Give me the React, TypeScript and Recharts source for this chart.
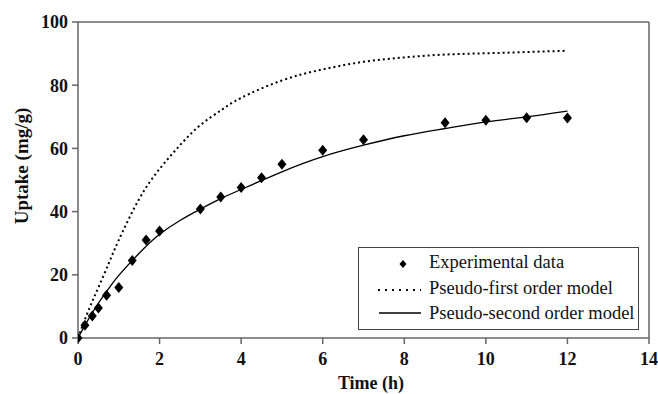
import {
  ComposedChart,
  Line,
  Scatter,
  XAxis,
  YAxis,
  ReferenceLine,
} from 'recharts';

// experimental uptake points (time in h, uptake in mg/g)
const expTimes = [0, 0.17, 0.35, 0.5, 0.7, 1.0, 1.33, 1.67, 2.0, 3.0, 3.5, 4.0, 4.5, 5.0, 6.0, 7.0, 9.0, 10.0, 11.0, 12.0];
const expUptake = [0, 4, 7, 9.5, 13.5, 16, 24.5, 31, 33.9, 40.8, 44.6, 47.6, 50.7, 55, 59.4, 62.7, 68.1, 68.9, 69.7, 69.6];

// model curves
const modelTimes = [0, 0.25, 0.5, 0.75, 1, 1.5, 2, 2.5, 3, 3.5, 4, 5, 6, 7, 8, 9, 10, 11, 12];
const firstOrder = [0, 8.5, 16, 23.5, 31, 44, 53.5, 61, 67.4, 72, 76, 81.5, 85, 87.4, 88.8, 89.7, 90.1, 90.5, 90.9];
const secondOrder = [0, 5.8, 11, 15.6, 19.8, 26.8, 32.8, 37.2, 40.8, 44.1, 47, 52.6, 57.4, 61, 64, 66.3, 68.4, 70, 71.8];

const xTicks = [0, 2, 4, 6, 8, 10, 12, 14];
const yTicks = [0, 20, 40, 60, 80, 100];

const expData = expTimes.map((t, i) => ({ t, q: expUptake[i] }));
const pfoData = modelTimes.map((t, i) => ({ t, q: firstOrder[i] }));
const psoData = modelTimes.map((t, i) => ({ t, q: secondOrder[i] }));

const FONT = "'Liberation Serif', 'Times New Roman', serif";
const AXIS = '#666';
const tickStyle = { fontFamily: FONT, fontSize: 18, fontWeight: 'bold', fill: '#111' };
const legendText = { fontFamily: FONT, fontSize: 18.5 };

// filled diamond marker, placed by the scatter's scales
const Diamond = (props: any) => {
  const { cx, cy } = props;
  return <path d={`M${cx} ${cy - 5.5} L${cx + 4.5} ${cy} L${cx} ${cy + 5.5} L${cx - 4.5} ${cy} Z`} fill="#000" />;
};

const LegendBox = () => (
  <div
    style={{
      position: 'absolute',
      left: 358,
      top: 247,
      width: 279,
      height: 81,
      border: '1px solid #444',
      background: '#fff',
    }}
  >
    <svg width={279} height={81} style={{ display: 'block', overflow: 'visible' }}>
      <path d="M44 12 L47.5 16 L44 20 L40.5 16 Z" fill="#000" />
      <text x={70} y={20} style={legendText} fill="#111">Experimental data</text>
      <line x1={19} y1={42} x2={62} y2={42} stroke="#000" strokeWidth={1.8} strokeDasharray="2 5" />
      <text x={70} y={46} style={legendText} fill="#111">Pseudo-first order model</text>
      <line x1={20} y1={65} x2={62} y2={65} stroke="#000" strokeWidth={1.3} />
      <text x={70} y={71} style={legendText} fill="#111">Pseudo-second order model</text>
    </svg>
  </div>
);

const App = () => {
  return (
    <div style={{ position: 'absolute', left: 0, top: 0, width: 658, height: 394, background: '#fff', fontFamily: FONT }}>
      <ComposedChart width={658} height={394} margin={{ top: 22, right: 9, bottom: 0, left: 0 }}>
        <XAxis
          type="number"
          dataKey="t"
          domain={[0, 14]}
          ticks={xTicks}
          allowDataOverflow
          height={56}
          stroke={AXIS}
          strokeWidth={1.5}
          tickSize={6}
          tickMargin={8}
          tick={tickStyle}
          label={{
            content: () => (
              <text x={371} y={389} textAnchor="middle" style={{ fontFamily: FONT, fontSize: 18, fontWeight: 'bold' }} fill="#111">
                Time (h)
              </text>
            ),
          }}
        />
        <YAxis
          type="number"
          dataKey="q"
          domain={[0, 100]}
          ticks={yTicks}
          width={78}
          stroke={AXIS}
          strokeWidth={1.5}
          tickSize={6}
          tickMargin={4}
          tick={tickStyle}
          label={{
            content: () => (
              <text
                x={28}
                y={166}
                transform="rotate(-90 28 166)"
                textAnchor="middle"
                style={{ fontFamily: FONT, fontSize: 19, fontWeight: 'bold' }}
                fill="#111"
              >
                Uptake (mg/g)
              </text>
            ),
          }}
        />
        <ReferenceLine y={100} stroke={AXIS} strokeWidth={1.5} />
        <ReferenceLine x={14} stroke={AXIS} strokeWidth={1.5} />
        <Line
          data={pfoData}
          dataKey="q"
          type="natural"
          stroke="#000"
          strokeWidth={2}
          strokeDasharray="2 3"
          dot={false}
          isAnimationActive={false}
        />
        <Line
          data={psoData}
          dataKey="q"
          type="natural"
          stroke="#000"
          strokeWidth={1.3}
          dot={false}
          isAnimationActive={false}
        />
        <Scatter data={expData} dataKey="q" shape={<Diamond />} isAnimationActive={false} />
      </ComposedChart>
      <LegendBox />
    </div>
  );
};

export default App;
